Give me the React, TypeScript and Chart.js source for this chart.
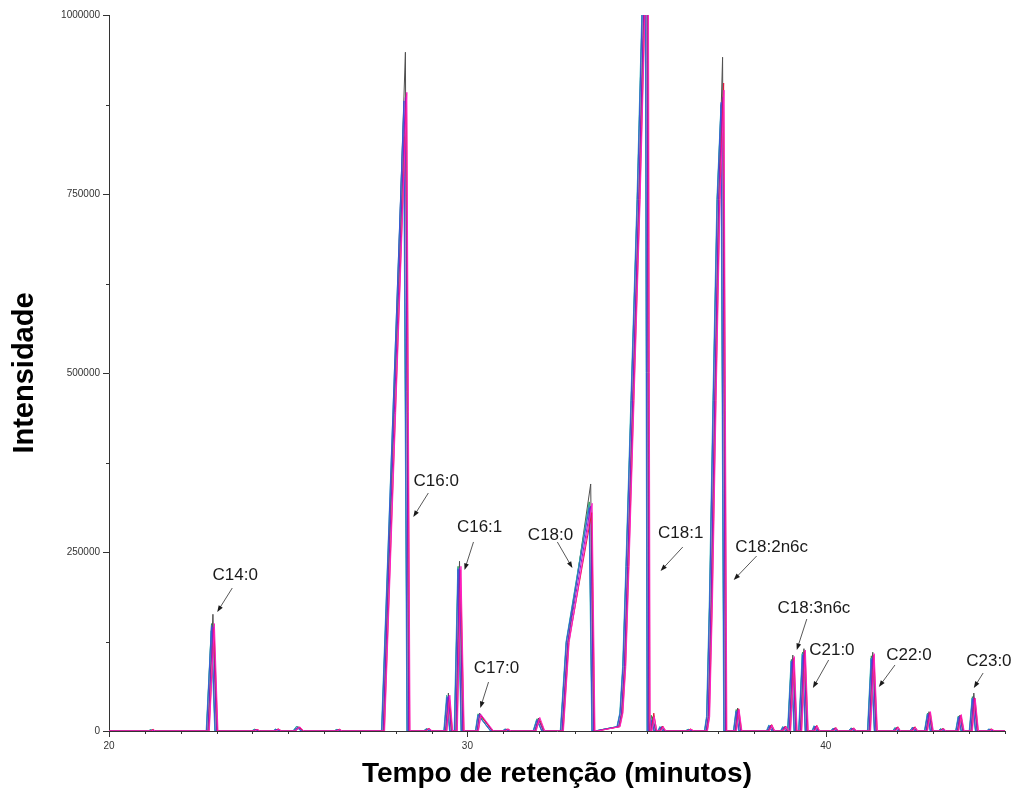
import React, { useEffect, useRef } from "react";
import { Chart, registerables } from "chart.js";

Chart.register(...registerables);

// ---- axes ----
const X_MIN = 20;
const X_MAX = 45;
const X_MAJOR_TICKS = [20, 30, 40];
const Y_MAX = 1000000;
const Y_MAJOR_TICKS = [0, 250000, 500000, 750000, 1000000];
const X_TITLE = "Tempo de retenção (minutos)";
const Y_TITLE = "Intensidade";

// ---- peaks (apex time in minutes, left/right base half-widths) ----
const PEAK_TIME = [21.2, 22.9, 24.1, 24.7, 25.28, 26.4, 28.27, 28.9, 29.47, 29.78, 30.34, 31.1, 31.98, 33.44, 35.0, 35.17, 35.42, 36.2, 37.12, 37.54, 38.46, 38.85, 39.08, 39.39, 39.72, 40.25, 40.75, 41.31, 41.98, 42.46, 42.88, 43.25, 43.74, 44.13, 44.6];
const PEAK_LEFT = [0.06, 0.14, 0.08, 0.08, 0.1, 0.08, 0.62, 0.08, 0.08, 0.1, 0.07, 0.08, 0.1, 0.8, 1.4, 0.06, 0.06, 0.08, 0.46, 0.07, 0.07, 0.07, 0.1, 0.1, 0.06, 0.07, 0.07, 0.1, 0.07, 0.07, 0.08, 0.07, 0.07, 0.08, 0.07];
const PEAK_RIGHT = [0.06, 0.1, 0.08, 0.08, 0.12, 0.08, 0.09, 0.08, 0.08, 0.09, 0.35, 0.08, 0.14, 0.08, 0.06, 0.08, 0.08, 0.08, 0.08, 0.08, 0.08, 0.07, 0.08, 0.08, 0.07, 0.07, 0.07, 0.09, 0.07, 0.07, 0.08, 0.07, 0.08, 0.09, 0.07];

// shared intermediate points on the fronting side of the large peaks: [time, intensity]
const RISE_C18_0 = [[32.8, 124000]];
const RISE_C18_1 = [[33.9, 3000], [34.22, 6000], [34.3, 25000], [34.38, 90000], [34.47, 230000], [34.61, 462000], [34.78, 742000], [34.93, 1030000]];
const RISE_C18_2 = [[36.72, 20000], [36.8, 183000], [36.9, 462000], [37.01, 742000]];
const RISE_INDEX = [13, 14, 18];

// ---- per-trace apex heights (one value per peak) ----
const H_BLACK = [1500, 163000, 2000, 2500, 6000, 2000, 948000, 3000, 53000, 237000, 25000, 2500, 18000, 345000, 1300000, 20000, 6000, 2000, 941000, 32000, 8000, 6000, 106000, 115000, 7000, 4000, 4000, 110000, 5000, 5000, 27000, 3000, 22000, 53000, 2500];
const H_GREEN = [2000, 150000, 2500, 2000, 7000, 2500, 830000, 3500, 48000, 230000, 24000, 2000, 17000, 320000, 1300000, 22000, 5000, 2500, 875000, 30000, 7000, 5000, 100000, 110000, 6000, 3500, 4500, 105000, 4500, 5500, 25000, 3500, 21000, 48000, 2000];
const H_TEAL = [1500, 140000, 2000, 3000, 6500, 2000, 860000, 3000, 50000, 228000, 23000, 3000, 16000, 316000, 1300000, 18000, 6500, 2000, 870000, 28000, 8500, 6500, 98000, 108000, 7500, 4000, 3500, 102000, 5000, 4500, 24000, 3000, 20000, 46000, 3000];
const H_BLUE = [1000, 148000, 1500, 2500, 5000, 1500, 880000, 2500, 47000, 226000, 22000, 2500, 15000, 312000, 1300000, 15000, 5500, 1500, 878000, 27000, 7500, 5500, 97000, 106000, 6500, 3500, 4000, 100000, 4000, 5000, 23000, 2500, 19000, 45000, 2500];
const H_PURPLE = [1500, 145000, 2000, 2000, 5500, 2000, 885000, 3000, 49000, 228000, 24000, 2000, 16000, 314000, 1300000, 16000, 6000, 2000, 885000, 29000, 8000, 6000, 100000, 110000, 7000, 4500, 4000, 104000, 5000, 5000, 25000, 3000, 21000, 47000, 2000];
const H_RED = [2500, 143000, 2500, 3000, 5000, 2500, 890000, 4000, 46000, 225000, 21000, 3000, 17000, 305000, 1300000, 25000, 7000, 3000, 905000, 31000, 9000, 7000, 102000, 112000, 8000, 5000, 4500, 106000, 6000, 6000, 26000, 4000, 22000, 46000, 3000];
const H_MAGENTA = [1500, 150000, 2000, 2500, 6000, 2000, 892000, 3500, 50000, 230000, 23000, 2500, 19000, 318000, 1300000, 20000, 6000, 2500, 895000, 30000, 8000, 6000, 104000, 113000, 7000, 4000, 4000, 108000, 5000, 5000, 27000, 3000, 23000, 45000, 2500];

// ---- traces ----
const TRACE_NAMES = ["Magenta", "Red", "Purple", "Blue", "Teal", "Green", "Black"];
const TRACE_COLORS = ["#ff1fc4", "#e3173e", "#8a1cc8", "#3a55d6", "#2fb0b5", "#2f9a55", "#505050"];
const TRACE_SHIFT = [0.04, 0.03, 0.0, -0.04, -0.05, -0.04, 0.0];
const TRACE_HEIGHTS = [H_MAGENTA, H_RED, H_PURPLE, H_BLUE, H_TEAL, H_GREEN, H_BLACK];

// ---- peak labels: [text, textX, textY, arrowTailX, arrowTailY, arrowTipX, arrowTipY] in data units ----
const LABELS: [string, number, number, number, number, number, number][] = [
  ["C14:0", 23.52, 217900, 23.44, 199700, 23.02, 166200],
  ["C16:0", 29.13, 349200, 28.91, 332400, 28.49, 298900],
  ["C16:1", 30.34, 284900, 30.17, 264000, 29.92, 224900],
  ["C17:0", 30.81, 88000, 30.59, 68400, 30.36, 32100],
  ["C18:0", 32.32, 273700, 32.51, 264000, 32.93, 227600],
  ["C18:1", 35.95, 276500, 36.01, 257000, 35.39, 223500],
  ["C18:2n6c", 38.49, 257000, 38.07, 244400, 37.43, 210900],
  ["C18:3n6c", 39.67, 171800, 39.47, 156400, 39.19, 113100],
  ["C21:0", 40.17, 113100, 40.08, 99200, 39.64, 60100],
  ["C22:0", 42.32, 106100, 41.93, 92200, 41.48, 61500],
  ["C23:0", 44.55, 97800, 44.39, 81000, 44.13, 60100],
];

function risePoints(i: number): number[][] {
  if (i === RISE_INDEX[0]) return RISE_C18_0;
  if (i === RISE_INDEX[1]) return RISE_C18_1;
  if (i === RISE_INDEX[2]) return RISE_C18_2;
  return [];
}

function buildTrace(heights: number[], shift: number) {
  const pts: { x: number; y: number }[] = [{ x: X_MIN, y: 0 }];
  for (let i = 0; i < PEAK_TIME.length; i++) {
    const t = PEAK_TIME[i] + shift;
    pts.push({ x: t - PEAK_LEFT[i], y: 0 });
    for (const [rx, ry] of risePoints(i)) pts.push({ x: rx + shift, y: ry });
    pts.push({ x: t, y: heights[i] });
    pts.push({ x: t + PEAK_RIGHT[i], y: 0 });
  }
  pts.push({ x: X_MAX, y: 0 });
  return pts;
}

const FONT = '"Liberation Sans", Arial, Helvetica, sans-serif';
const AXIS_COLOR = "#333333";

const decorPlugin = {
  id: "decor",
  afterDatasetsDraw(chart: any) {
    const { ctx, chartArea, scales } = chart;
    const xs = scales.x;
    const ys = scales.y;
    ctx.save();
    // ticks
    ctx.strokeStyle = AXIS_COLOR;
    ctx.lineWidth = 1;
    ctx.beginPath();
    for (let t = X_MIN; t <= X_MAX; t += 1) {
      const px = Math.round(xs.getPixelForValue(t)) + 0.5;
      const len = X_MAJOR_TICKS.includes(t) ? 6 : 3;
      ctx.moveTo(px, chartArea.bottom);
      ctx.lineTo(px, chartArea.bottom + len);
    }
    for (let v = 0; v <= Y_MAX; v += Y_MAX / 8) {
      const py = Math.round(ys.getPixelForValue(v)) + 0.5;
      const len = Y_MAJOR_TICKS.includes(v) ? 6 : 3;
      ctx.moveTo(chartArea.left, py);
      ctx.lineTo(chartArea.left - len, py);
    }
    ctx.stroke();

    // labels and arrows
    ctx.fillStyle = "#1a1a1a";
    ctx.font = "17px " + FONT;
    ctx.textAlign = "center";
    ctx.textBaseline = "middle";
    for (const [txt, tx, ty, ax1, ay1, ax2, ay2] of LABELS) {
      ctx.fillStyle = "#1a1a1a";
      ctx.fillText(txt, xs.getPixelForValue(tx), ys.getPixelForValue(ty));
      const x1 = xs.getPixelForValue(ax1);
      const y1 = ys.getPixelForValue(ay1);
      const x2 = xs.getPixelForValue(ax2);
      const y2 = ys.getPixelForValue(ay2);
      const ang = Math.atan2(y2 - y1, x2 - x1);
      const head = 7;
      ctx.strokeStyle = "#444";
      ctx.lineWidth = 0.9;
      ctx.beginPath();
      ctx.moveTo(x1, y1);
      ctx.lineTo(x2 - Math.cos(ang) * head * 0.8, y2 - Math.sin(ang) * head * 0.8);
      ctx.stroke();
      ctx.beginPath();
      ctx.moveTo(x2, y2);
      ctx.lineTo(x2 - head * Math.cos(ang - 0.35), y2 - head * Math.sin(ang - 0.35));
      ctx.lineTo(x2 - head * Math.cos(ang + 0.35), y2 - head * Math.sin(ang + 0.35));
      ctx.closePath();
      ctx.fill();
    }

    // axis titles
    ctx.fillStyle = "#000";
    ctx.font = "bold 28px " + FONT;
    ctx.textAlign = "center";
    ctx.textBaseline = "middle";
    ctx.fillText(X_TITLE, (chartArea.left + chartArea.right) / 2, 774);
    ctx.translate(25, (chartArea.top + chartArea.bottom) / 2);
    ctx.rotate(-Math.PI / 2);
    ctx.font = "bold 29px " + FONT;
    ctx.fillText(Y_TITLE, 0, 0);
    ctx.restore();
  },
};

export default function App() {
  const ref = useRef<HTMLCanvasElement | null>(null);
  useEffect(() => {
    if (!ref.current) return;
    const datasets = TRACE_NAMES.map((name, k) => ({
      label: name,
      data: buildTrace(TRACE_HEIGHTS[k], TRACE_SHIFT[k]),
      borderColor: TRACE_COLORS[k],
      borderWidth: 1,
      pointRadius: 0,
      fill: false,
      tension: 0,
    }));
    const chart = new Chart(ref.current, {
      type: "line",
      data: { datasets },
      plugins: [decorPlugin],
      options: {
        animation: false,
        responsive: false,
        maintainAspectRatio: false,
        layout: { padding: { top: 14, right: 9, left: 0, bottom: 0 } },
        plugins: { legend: { display: false }, tooltip: { enabled: false } },
        scales: {
          x: {
            type: "linear",
            min: X_MIN,
            max: X_MAX,
            afterBuildTicks: (s: any) => {
              s.ticks = X_MAJOR_TICKS.map((v) => ({ value: v }));
            },
            afterFit: (s: any) => {
              s.height = 61;
            },
            grid: { display: true, drawOnChartArea: false, drawTicks: false },
            border: { display: true, color: AXIS_COLOR, width: 1 },
            ticks: {
              padding: 9,
              color: "#333",
              font: { family: FONT, size: 10 },
              maxRotation: 0,
              callback: (v: any) => String(v),
            },
          },
          y: {
            type: "linear",
            min: 0,
            max: Y_MAX,
            afterBuildTicks: (s: any) => {
              s.ticks = Y_MAJOR_TICKS.map((v) => ({ value: v }));
            },
            afterFit: (s: any) => {
              s.width = 109;
            },
            grid: { display: true, drawOnChartArea: false, drawTicks: false },
            border: { display: true, color: AXIS_COLOR, width: 1 },
            ticks: {
              padding: 9,
              color: "#333",
              font: { family: FONT, size: 10 },
              callback: (v: any) => String(v),
            },
          },
        },
      } as any,
    });
    return () => chart.destroy();
  }, []);
  return (
    <div style={{ position: "absolute", left: 0, top: 0, width: 1014, height: 792, background: "#fff" }}>
      <canvas ref={ref} width={1014} height={792} style={{ display: "block", width: 1014, height: 792 }} />
    </div>
  );
}
